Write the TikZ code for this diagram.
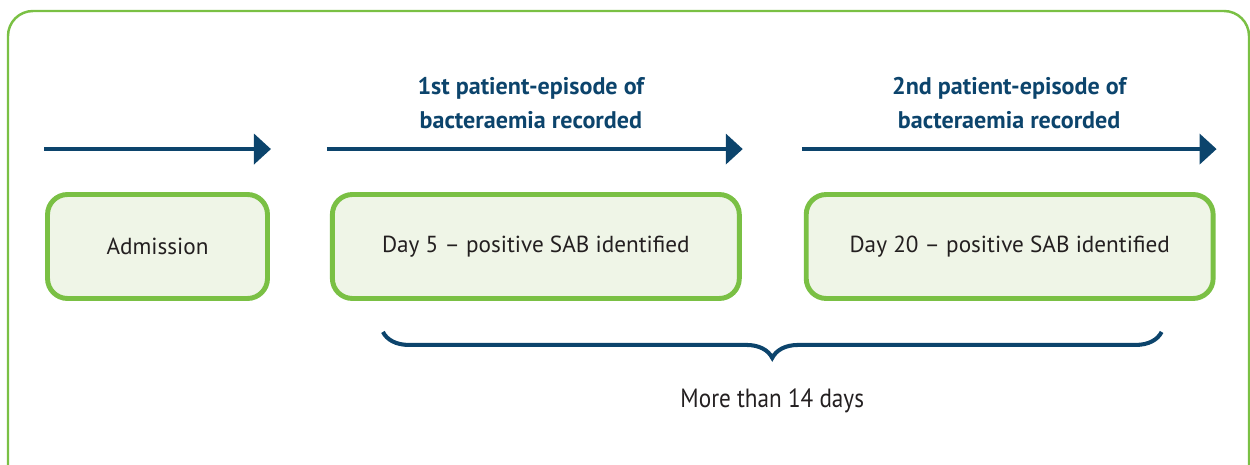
\documentclass[tikz,border=0pt]{standalone}
\usepackage{fontspec}
\setmainfont{PT Sans}
\usetikzlibrary{arrows.meta,positioning,calc,decorations.pathreplacing}
\definecolor{NavyLine}{RGB}{12,68,108}
\definecolor{LeafGreen}{RGB}{122,192,68}
\definecolor{LeafPale}{RGB}{239,245,231}
\definecolor{InkGrey}{RGB}{35,31,32}
\tikzset{
  framebox/.style={draw=LeafGreen, line width=1.4pt, rounded corners=0.5cm},
  eventbox/.style={draw=LeafGreen, line width=2.8pt, rounded corners=0.4cm, fill=LeafPale,
    text=InkGrey, align=center, minimum width=#1, minimum height=2.08cm,
    font=\fontsize{13.2}{16}\selectfont},
  eventbox/.default=4.4cm,
  timearr/.style={-{Triangle[length=0.34cm, width=0.6cm]}, line width=2.3pt, NavyLine},
  episodelbl/.style={align=center, text=NavyLine, inner sep=0pt,
    font=\fontsize{13.7}{19.3}\selectfont\bfseries},
  spanbrace/.style={decorate, decoration={brace, mirror, amplitude=0.52cm},
    line width=2.3pt, NavyLine},
  spanlbl/.style={text=InkGrey, inner sep=0pt, font=\fontsize{15}{18}\selectfont},
}
\begin{document}
\begin{tikzpicture}[x=0.02cm, y=-0.02cm]
  \clip (0,0) rectangle (1250,465);
  \draw[framebox] (8,11) rectangle (1249,500);

  % the three events
  \node[eventbox] (adm) at (157.5,246.5) {Admission};
  \node[eventbox=8.14cm, right=1.2cm of adm] (day5) {Day 5 -- positive SAB identified};
  \node[eventbox=8.14cm, right=1.24cm of day5] (day20) {Day 20 -- positive SAB identified};

  % time arrows over the boxes
  \coordinate[above left=0.86cm and 0.02cm of adm.north west] (a1s);
  \coordinate[above right=0.86cm and 0.02cm of adm.north east] (a1e);
  \coordinate[above left=0.86cm and 0.06cm of day5.north west] (a2s);
  \coordinate[above right=0.86cm and 0.02cm of day5.north east] (a2e);
  \coordinate[above left=0.86cm and 0.04cm of day20.north west] (a3s);
  \coordinate[above right=0.86cm and 0.02cm of day20.north east] (a3e);
  \draw[timearr] (a1s) -- (a1e);
  \draw[timearr] (a2s) -- (a2e);
  \draw[timearr] (a3s) -- (a3e);

  \coordinate (a2m) at ($(a2s)!0.5!(a2e)$);
  \coordinate (a3m) at ($(a3s)!0.5!(a3e)$);
  \node[episodelbl, above left=0.4cm and 0.08cm of a2m, anchor=south] (ep1) {1st patient-episode of\\bacteraemia recorded};
  \node[episodelbl, above=0.4cm of a3m] (ep2) {2nd patient-episode of\\bacteraemia recorded};

  % gap between the two positive results
  \coordinate[below right=0.62cm and 1.06cm of day5.south west] (bl);
  \coordinate[below left=0.62cm and 1.08cm of day20.south east] (br);
  \coordinate (bm) at ($(bl)!0.5!(br)$);
  \draw[spanbrace] (bl) -- (br);
  \node[spanlbl, below=1.12cm of bm] (span) {\scalebox{0.88}[1]{More than 14 days}};
\end{tikzpicture}
\end{document}
